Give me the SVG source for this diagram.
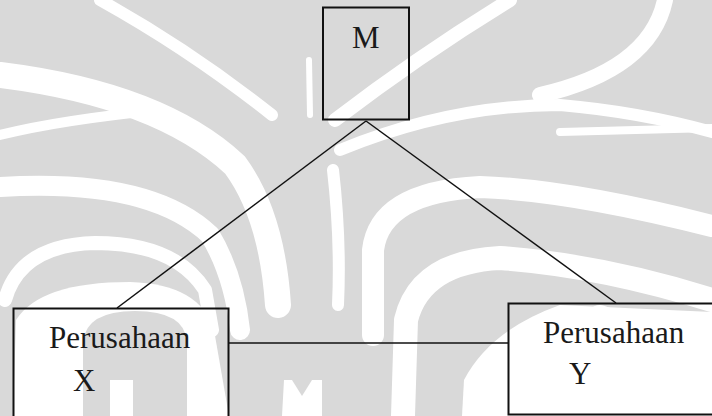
<svg xmlns="http://www.w3.org/2000/svg" width="712" height="416" viewBox="0 0 712 416">
  <style>
    .wm { fill: none; stroke: #ffffff; stroke-linecap: round; stroke-linejoin: round; }
    .wmf { fill: #ffffff; stroke: none; }
    .wmg { fill: #d9d9d9; stroke: none; }
    .box { fill: none; stroke: #111111; stroke-width: 2; }
    .link { fill: none; stroke: #111111; stroke-width: 1.5; }
    .lbl { font-family: "Liberation Serif", "Times New Roman", serif; font-size: 31px; fill: #1a1a1a; }
  </style>

  <!-- faint watermark backdrop -->
  <g id="backdrop">
    <rect x="0" y="0" width="712" height="416" fill="#d9d9d9"/>
    <!-- upper left sweeps -->
    <path class="wm" stroke-width="12" d="M 100,0 Q 190,50 272,115"/>
    <path class="wm" stroke-width="26" d="M 0,75 Q 160,95 235,165 Q 272,215 278,305"/>
    <path class="wm" stroke-width="10" d="M 0,135 Q 60,120 160,110"/>
    <path class="wm" stroke-width="6" d="M 309,60 L 310,115"/>
    <!-- nested arches, lower left -->
    <path class="wm" stroke-width="20" d="M 0,187 Q 150,178 210,235 Q 234,275 240,330"/>
    <path class="wm" stroke-width="14" d="M 5,300 Q 20,245 95,243 Q 175,243 205,290 L 212,330"/>
    <path class="wmf" d="M 13,416 L 16,320 Q 40,282 130,282 Q 200,284 214,330 L 229,416 Z"/>
    <path class="wmg" d="M 83,416 L 83,342 Q 86,311 135,311 Q 185,311 187,342 L 187,416 Z"/>
    <rect class="wmf" x="110" y="380" width="23" height="36"/>
    <!-- central fingers -->
    <path class="wm" stroke-width="12" d="M 333,170 Q 341,240 338,305"/>
    <path class="wm" stroke-width="14" d="M 335,120 Q 420,55 510,0"/>
    <path class="wmf" d="M 282,416 L 284,380 L 292,380 L 302,396 L 312,380 L 322,380 L 322,416 Z"/>
    <!-- upper right sweeps -->
    <path class="wm" stroke-width="12" d="M 340,150 Q 450,105 560,105 Q 640,112 712,132"/>
    <path class="wm" stroke-width="16" d="M 665,0 Q 650,70 540,95"/>
    <path class="wm" stroke-width="8" d="M 560,132 L 712,128"/>
    <!-- arches and waves, lower right -->
    <path class="wm" stroke-width="22" d="M 373,335 L 373,250 Q 380,192 480,187 Q 570,190 712,226"/>
    <path class="wm" stroke-width="24" d="M 403,416 L 406,320 Q 420,262 500,258 Q 600,265 712,300"/>
    <path class="wmf" d="M 462,416 L 464,380 Q 490,330 560,305 L 712,312 L 712,416 Z"/>
    <path class="wm" stroke-width="26" stroke="#d9d9d9" d="M 600,318 Q 665,340 712,392"/>
  </g>

  <!-- connectors -->
  <g id="connectors">
    <path class="link" d="M 366,121 L 117,308"/>
    <path class="link" d="M 366,121 L 616,303"/>
    <path class="link" d="M 229,343 L 508,343"/>
  </g>

  <g id="node-m">
    <rect class="box" x="323" y="7.5" width="86" height="112"/>
    <text class="lbl" x="352" y="48">M</text>
  </g>

  <g id="node-x">
    <rect class="box" x="13.5" y="308.5" width="215" height="120"/>
    <text class="lbl" x="49" y="348">Perusahaan</text>
    <text class="lbl" x="73" y="391">X</text>
  </g>

  <g id="node-y">
    <rect class="box" x="508.5" y="303.5" width="220" height="111"/>
    <text class="lbl" x="543" y="343">Perusahaan</text>
    <text class="lbl" x="569" y="384">Y</text>
  </g>
</svg>
